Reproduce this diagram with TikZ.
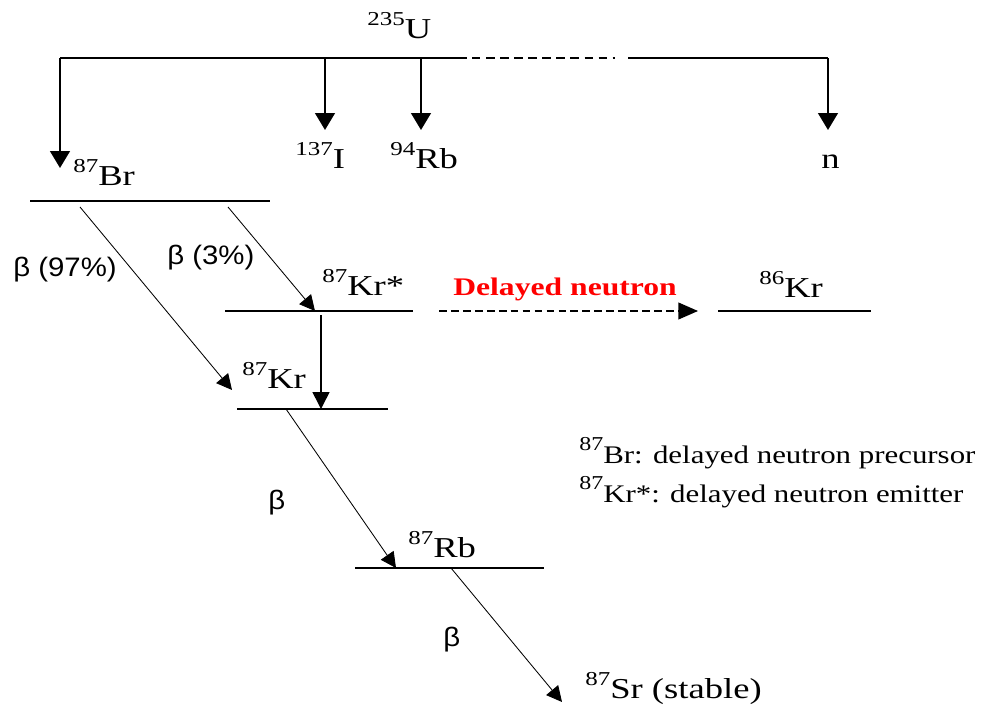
\documentclass[tikz,border=0pt]{standalone}
\usepackage{fontspec}
\setmainfont{Liberation Serif}
\newfontfamily\nucfont[FakeStretch=1.27]{Liberation Serif}
\newfontfamily\notefont[FakeStretch=1.22]{Liberation Serif}
\newfontfamily\delayfont[FakeStretch=1.25]{Liberation Serif}
\newfontfamily\betafont[FakeStretch=1.1]{Liberation Sans}
\usetikzlibrary{arrows.meta, positioning, calc}
\definecolor{delayred}{HTML}{FF0000}
\newcommand{\iso}[2]{\raisebox{9pt}{\fontsize{14}{14}\selectfont #1}#2}

\begin{document}
\begin{tikzpicture}[
    x=0.025cm, y=-0.025cm,
    nuc/.style={anchor=base west, inner sep=0pt,
                font=\nucfont\fontsize{20.5}{24}\selectfont},
    betalabel/.style={anchor=west, inner sep=0pt,
                      font=\betafont\fontsize{19}{22}\selectfont},
    note/.style={anchor=base west, inner sep=0pt,
                 font=\notefont\fontsize{18}{22}\selectfont},
    level/.style={line width=1pt},
    feed/.style={-{Triangle[length=12pt, width=14pt]}, line width=1.4pt},
    decay/.style={-{Triangle[length=11pt, width=11pt]}, line width=0.6pt},
    gamma/.style={-{Triangle[length=12pt, width=12pt]}, line width=1.1pt}
  ]
    \useasboundingbox (0,0) rectangle (987,710);

    % fission of U-235
    \node[nuc] (u235) at (367,38) {\iso{235}{U}};
    \coordinate (split-l) at (60,58);
    \coordinate (split-i) at (325,58);
    \coordinate (split-rb) at (421,58);
    \coordinate (split-e) at (467,58);
    \coordinate (dash-s) at (472,58);
    \coordinate (dash-e) at (615,58);
    \coordinate (split-ns) at (628,58);
    \coordinate (split-n) at (828,58);
    \draw[line width=1.4pt] (split-l) -- (split-e);
    \draw[line width=1.4pt, dash pattern=on 6pt off 4pt] (dash-s) -- (dash-e);
    \draw[line width=1.4pt] (split-ns) -- (split-n);

    \coordinate (tip-br) at (60,168);
    \coordinate (tip-i) at (325,130);
    \coordinate (tip-rb) at (421,130);
    \coordinate (tip-n) at (828,130);
    \draw[feed] (split-l) -- (tip-br);
    \draw[feed] (split-i) -- (tip-i);
    \draw[feed] (split-rb) -- (tip-rb);
    \draw[feed] (split-n) -- (tip-n);

    \node[nuc] (br87) at (73,185) {\iso{87}{Br}};
    \node[nuc] (i137) at (295,168) {\iso{137}{I}};
    \node[nuc] (rb94) at (390,168) {\iso{94}{Rb}};
    \node[nuc] (n) at (821,168) {n};

    % energy levels
    \draw[level] (30,201) coordinate (br-l) -- (270,201) coordinate (br-r);
    \draw[level] (225,311) coordinate (krs-l) -- (413,311) coordinate (krs-r);
    \draw[level] (237,409) coordinate (kr-l) -- (388,409) coordinate (kr-r);
    \draw[level] (718,311) coordinate (kr86-l) -- (871,311) coordinate (kr86-r);
    \draw[level] (355,568) coordinate (rb-l) -- (544,568) coordinate (rb-r);

    \node[nuc] (krstar) at (322,295) {\iso{87}{Kr*}};
    \node[nuc] (kr87) at (242,388) {\iso{87}{Kr}};
    \node[nuc] (kr86) at (759,297) {\iso{86}{Kr}};
    \node[nuc] (rb87) at (408,557) {\iso{87}{Rb}};
    \node[nuc] (sr87) at (585,698) {\iso{87}{Sr (stable)}};

    % decays
    \coordinate (br-a) at (80,207);
    \coordinate (br-b) at (228,207);
    \coordinate (kr-in) at (232,390);
    \coordinate (krs-in) at (315,311);
    \coordinate (krs-out) at (321,315);
    \coordinate (kr-g) at (321,409);
    \coordinate (kr-out) at (286,409);
    \coordinate (rb-in) at (396,568);
    \coordinate (rb-out) at (451,568);
    \coordinate (sr-in) at (562,702);
    \draw[decay] (br-a) -- (kr-in);
    \draw[decay] (br-b) -- (krs-in);
    \draw[gamma] (krs-out) -- (kr-g);
    \draw[decay] (kr-out) -- (rb-in);
    \draw[decay] (rb-out) -- (sr-in);

    \node[betalabel] (b97) at (13,270) {β (97\%)};
    \node[betalabel] (b3) at (167,258) {β (3\%)};
    \node[betalabel] (b-kr) at (268,503) {β};
    \node[betalabel] (b-rb) at (443,640) {β};

    % neutron emission
    \coordinate (dn-s) at (439,311);
    \coordinate (dn-e) at (698,311);
    \draw[line width=1pt, dash pattern=on 5.5pt off 3pt,
          -{Triangle[length=14pt, width=12pt]}] (dn-s) -- (dn-e);
    \node[note, font=\delayfont\bfseries\fontsize{18}{22}\selectfont,
          text=delayred] (delayed) at (453,295) {Delayed neutron};

    \node[note] (leg-br) at (579,463) {\iso{87}{Br}: delayed neutron precursor};
    \node[note] (leg-kr) at (579,502) {\iso{87}{Kr*}: delayed neutron emitter};
\end{tikzpicture}
\end{document}
